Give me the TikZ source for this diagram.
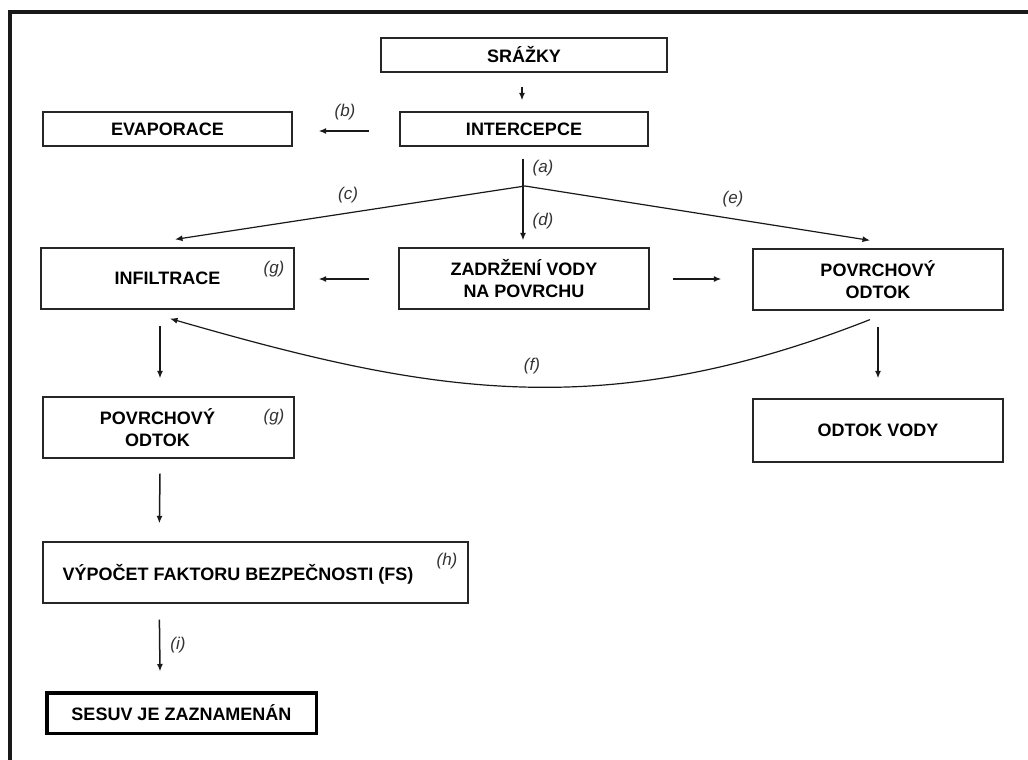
\documentclass[tikz,border=0pt]{standalone}
\usepackage{fontspec}
\setmainfont{Liberation Sans}
\usetikzlibrary{arrows.meta,calc}
\begin{document}
\begin{tikzpicture}[x=1pt,y=-1pt,
  box/.style={draw=black!85,line width=1.2pt,inner sep=0pt,font=\bfseries\fontsize{18}{22}\selectfont,align=center},
  txt/.style={inner sep=0pt,font=\bfseries\fontsize{18}{22}\selectfont,align=center},
  lab/.style={font=\itshape\fontsize{17}{20}\selectfont,text=black!80,inner sep=0pt},
  arr/.style={-{Latex[length=7.5pt,width=6pt]},line width=1.5pt,draw=black!90},
  thinarr/.style={-{Latex[length=7.5pt,width=6pt]},line width=1.2pt,draw=black!90}]
\useasboundingbox (0,0) rectangle (1028,760);
\fill[white] (0,0) rectangle (1028,760);
% frame
\draw[line width=4pt,black!90] (1028,12) -- (10,12) -- (10,760);

% nodes
\node[box,minimum width=286pt,minimum height=34pt] (sr) at (524,55) {SRÁŽKY};
\node[box,minimum width=248pt,minimum height=34pt] (ic) at (524,129) {INTERCEPCE};
\node[box,minimum width=249pt,minimum height=34pt] (ev) at (167.5,129) {EVAPORACE};
\node[box,minimum width=253pt,minimum height=61pt] (inf) at (167.5,278.5) {INFILTRACE};
\node[box,minimum width=250pt,minimum height=61pt] (zd) at (524,278.5) {ZADRŽENÍ VODY\\NA POVRCHU};
\node[box,minimum width=250pt,minimum height=61pt] (pr) at (878,279.5) {POVRCHOVÝ\\ODTOK};
\node[box,minimum width=251pt,minimum height=61pt] (pl) at (168.5,427.5) {};
\node[txt] (plt) at (157.5,428) {POVRCHOVÝ\\ODTOK};
\node[box,minimum width=425pt,minimum height=61pt] (vp) at (255.5,572.5) {};
\node[txt] (vpt) at (238,574) {VÝPOČET FAKTORU BEZPEČNOSTI (FS)};
\node[box,draw=black,line width=3.5pt,minimum width=269.5pt,minimum height=40.5pt] (ses) at (181.5,713) {SESUV JE ZAZNAMENÁN};
\node[box,minimum width=250pt,minimum height=63pt] (ov) at (878,430.5) {ODTOK VODY};

% labels
\node[lab] (lb) at (345,112) {(b)};
\node[lab] (la) at (543,168) {(a)};
\node[lab] (ld) at (543,221) {(d)};
\node[lab] (lc) at (348,195) {(c)};
\node[lab] (le) at (733,199) {(e)};
\node[lab] (lg1) at (274,269) {(g)};
\node[lab] (lg2) at (274,417) {(g)};
\node[lab] (lh) at (447,561) {(h)};
\node[lab] (li) at (178,645) {(i)};
\node[lab] (lf) at (532,366) {(f)};

% connectors
\draw[arr] ($(sr.south)+(-2,14)$) -- ($(ic.north)+(-2,-11)$);
\draw[arr] ($(ic.west)+(-30,2)$) -- ($(ev.east)+(26,2)$);
\draw[arr,line width=2pt] ($(ic.south)+(-1,12)$) -- ($(zd.north)+(-1,-7)$);
\coordinate (J) at (525,186);
\draw[thinarr] (J) -- ($(inf.north)+(7.5,-8)$);
\draw[thinarr] (J) -- ($(pr.north)+(-8,-8)$);
\draw[arr] ($(zd.west)+(-29,0.5)$) -- ($(inf.east)+(24,0.5)$);
\draw[arr] ($(zd.east)+(23,0.5)$) -- ($(pr.west)+(-31,-0.5)$);
\draw[arr] ($(inf.south)+(-7.5,16)$) -- ($(pl.north)+(-8.5,-18)$);
\draw[arr] ($(pl.south)+(-8.5,15)$) -- ($(vp.north west)+(117,-18)$);
\draw[arr] ($(vp.south west)+(117,16)$) -- ($(ses.north)+(-21.5,-19.5)$);
\draw[arr] ($(pr.south)+(0,16)$) -- ($(ov.north)+(0,-20)$);
\draw[thinarr] ($(pr.south)+(-8,9)$) .. controls (600,426) and (425,392) .. ($(inf.south)+(2.5,9)$);
\end{tikzpicture}
\end{document}
